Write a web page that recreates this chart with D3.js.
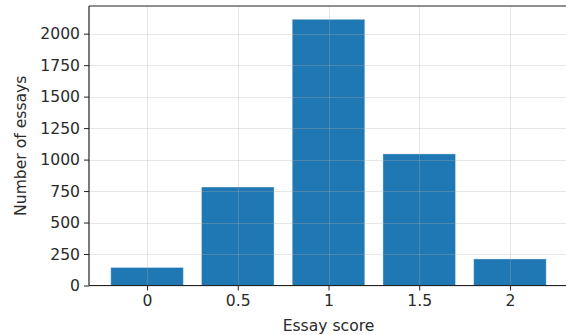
<!DOCTYPE html>
<html><head><meta charset="utf-8">
<script src="https://cdn.jsdelivr.net/npm/d3@7"></script>
<style>
body{margin:0;background:#fff;}
svg{display:block;font-family:"DejaVu Sans",sans-serif;}
</style></head>
<body><svg id="c" width="566" height="335"></svg>
<script>
const scores = [0, 0.5, 1, 1.5, 2];
const counts = [143, 782, 2114, 1045, 211];
const yTicks = [0, 250, 500, 750, 1000, 1250, 1500, 1750, 2000];
const xTickLabels = ["0", "0.5", "1", "1.5", "2"];
const barWidth = 0.4;

const svg = d3.select("#c");
const L = 89, R = 568, T = 6, B = 285.5;
const x = d3.scaleLinear().domain([-0.2 - 0.12, 2.2 + 0.12]).range([L, R]);
const y = d3.scaleLinear().domain([0, d3.max(counts) * 1.05]).range([B, T]);
const txt = "#2a2a2a";
const fs = "15.6px";

// bars
svg.append("g").selectAll("rect").data(scores).join("rect")
  .attr("x", (d) => x(d - barWidth / 2))
  .attr("width", (d) => x(d + barWidth / 2) - x(d - barWidth / 2))
  .attr("y", (d, i) => y(counts[i]))
  .attr("height", (d, i) => B - y(counts[i]))
  .attr("fill", "#1f77b4")
  .attr("stroke", "rgba(255,255,255,0.35)")
  .attr("stroke-width", 1);

// grid (drawn above bars)
const grid = svg.append("g").attr("stroke", "#b0b0b0").attr("stroke-opacity", 0.3).attr("stroke-width", 1);
grid.selectAll("line.h").data(yTicks).join("line")
  .attr("x1", L).attr("x2", R)
  .attr("y1", (d) => Math.round(y(d)) + 0.5).attr("y2", (d) => Math.round(y(d)) + 0.5);
grid.selectAll("line.v").data(scores).join("line")
  .attr("y1", T).attr("y2", B)
  .attr("x1", (d) => Math.round(x(d)) + 0.5).attr("x2", (d) => Math.round(x(d)) + 0.5);

// axes
const xAxis = d3.axisBottom(x).tickValues(scores).tickFormat((d, i) => xTickLabels[i]).tickSize(5).tickPadding(4);
const yAxis = d3.axisLeft(y).tickValues(yTicks).tickFormat(d3.format("d")).tickSize(5).tickPadding(4);

const gx = svg.append("g").attr("transform", `translate(0,${B})`).call(xAxis);
const gy = svg.append("g").attr("transform", `translate(${L},0)`).call(yAxis);
[gx, gy].forEach(g => {
  g.select(".domain").remove();
  g.selectAll(".tick line").attr("stroke", "#222").attr("stroke-width", 1);
  g.selectAll(".tick text").attr("fill", txt).style("font-size", fs).style("font-family", "DejaVu Sans");
});

// spines
svg.append("line").attr("x1", L).attr("x2", L).attr("y1", T).attr("y2", B).attr("stroke", "#222").attr("stroke-width", 1.2);
svg.append("line").attr("x1", L).attr("x2", R).attr("y1", T).attr("y2", T).attr("stroke", "#222").attr("stroke-width", 1.2);
svg.append("line").attr("x1", L).attr("x2", R).attr("y1", B).attr("y2", B).attr("stroke", "#222").attr("stroke-width", 1.2);
svg.append("line").attr("x1", R).attr("x2", R).attr("y1", T).attr("y2", B).attr("stroke", "#222").attr("stroke-width", 1.2);

// labels
svg.append("text").attr("x", (L + R) / 2).attr("y", 331).attr("text-anchor", "middle")
  .attr("fill", txt).style("font-size", fs).text("Essay score");
svg.append("text").attr("transform", `translate(26,${(T + B) / 2}) rotate(-90)`).attr("text-anchor", "middle")
  .attr("fill", txt).style("font-size", fs).text("Number of essays");
</script></body></html>
